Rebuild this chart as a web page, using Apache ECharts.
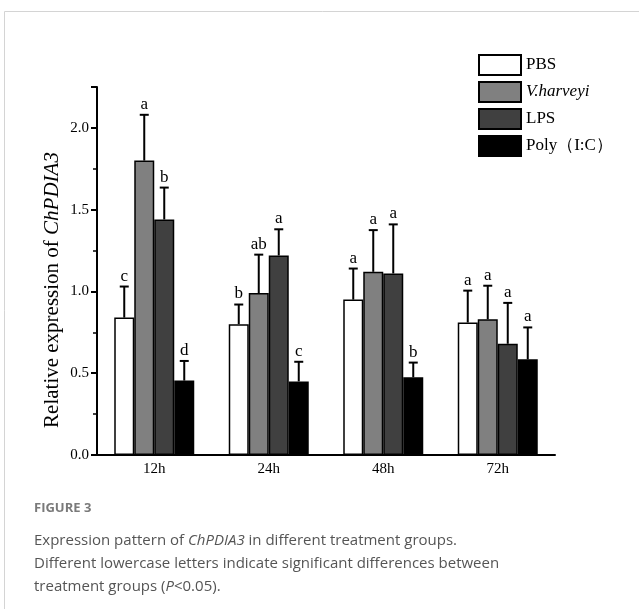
<!DOCTYPE html>
<html>
<head>
<meta charset="utf-8">
<script src="https://cdn.jsdelivr.net/npm/echarts@6/dist/echarts.min.js"></script>
<style>
html,body{margin:0;padding:0;background:#fff;}
#chart{width:639px;height:609px;}
</style>
</head>
<body>
<div id="chart"></div>
<script>
const categories = ['12h', '24h', '48h', '72h'];
const seriesNames = ['PBS', 'V.harveyi', 'LPS', 'Poly（I:C）'];
const pbsValues = [0.84, 0.80, 0.95, 0.81];
const pbsErrors = [0.19, 0.12, 0.19, 0.195];
const pbsLetters = ['c', 'b', 'a', 'a'];
const vhValues = [1.80, 0.99, 1.12, 0.83];
const vhErrors = [0.28, 0.235, 0.255, 0.205];
const vhLetters = ['a', 'ab', 'a', 'a'];
const lpsValues = [1.44, 1.22, 1.11, 0.68];
const lpsErrors = [0.195, 0.16, 0.30, 0.25];
const lpsLetters = ['b', 'a', 'a', 'a'];
const polyValues = [0.455, 0.45, 0.475, 0.585];
const polyErrors = [0.12, 0.12, 0.09, 0.195];
const polyLetters = ['d', 'c', 'b', 'a'];
const yTicks = [0, 0.5, 1.0, 1.5, 2.0];

const values = [pbsValues, vhValues, lpsValues, polyValues];
const errors = [pbsErrors, vhErrors, lpsErrors, polyErrors];
const letters = [pbsLetters, vhLetters, lpsLetters, polyLetters];
const colors = ['#ffffff', '#808080', '#404040', '#000000'];

const SERIF = '"Liberation Serif","Times New Roman",serif';
const BAR_W = 20;

const chart = echarts.init(document.getElementById('chart'));

const series = [];
seriesNames.forEach((name, k) => {
  series.push({
    name: name,
    type: 'bar',
    barWidth: BAR_W,
    barGap: '0%',
    data: values[k],
    itemStyle: { color: colors[k], borderColor: '#000', borderWidth: 1.5 },
    z: 2
  });
});
seriesNames.forEach((name, k) => {
  series.push({
    type: 'custom',
    name: name + '_err',
    z: 5,
    data: values[k].map((v, i) => [i, v, errors[k][i]]),
    renderItem: function (params, api) {
      const i = api.value(0), v = api.value(1), e = api.value(2);
      const p0 = api.coord([i, v]);
      const p1 = api.coord([i, v + e]);
      const x = p0[0] + (k - 1.5) * BAR_W;
      return {
        type: 'group',
        children: [
          { type: 'line', shape: { x1: x, y1: p0[1], x2: x, y2: p1[1] }, style: { stroke: '#000', lineWidth: 2 } },
          { type: 'line', shape: { x1: x - 4.5, y1: p1[1], x2: x + 4.5, y2: p1[1] }, style: { stroke: '#000', lineWidth: 2 } },
          { type: 'text', x: x, y: p1[1] - 2, style: { text: letters[k][params.dataIndex], fontFamily: SERIF, fontSize: 17, fill: '#000', align: 'center', verticalAlign: 'bottom' } }
        ]
      };
    }
  });
});

const option = {
  animation: false,
  backgroundColor: '#fff',
  grid: { left: 97, right: 84, top: 87, bottom: 154, containLabel: false },
  legend: {
    data: seriesNames,
    orient: 'vertical',
    left: 473,
    top: 49,
    itemWidth: 42,
    itemHeight: 20,
    itemGap: 5,
    icon: 'rect',
    itemStyle: { borderColor: '#000', borderWidth: 2 },
    textStyle: {
      fontFamily: SERIF, fontSize: 17, color: '#000',
      rich: { i: { fontFamily: SERIF, fontSize: 17, fontStyle: 'italic', color: '#000' } }
    },
    formatter: function (n) { return n === 'V.harveyi' ? '{i|V.harveyi}' : n; }
  },
  xAxis: [{
    type: 'category',
    data: categories,
    axisLine: { lineStyle: { color: '#000', width: 2 } },
    axisTick: { alignWithLabel: true, length: 6, lineStyle: { color: '#000', width: 2 } },
    axisLabel: { fontFamily: SERIF, fontSize: 15, color: '#000', margin: 7 }
  }, {
    type: 'category',
    data: categories,
    position: 'bottom',
    axisLine: { show: false },
    axisTick: { inside: true, length: 4, lineStyle: { color: '#000', width: 2 } },
    axisLabel: { show: false }
  }],
  yAxis: {
    type: 'value',
    min: 0, max: 2.25, interval: 0.5,
    axisLine: { show: true, lineStyle: { color: '#000', width: 2 } },
    axisTick: { show: true, length: 6, lineStyle: { color: '#000', width: 2 } },
    minorTick: { show: true, splitNumber: 2, length: 4, lineStyle: { color: '#000', width: 1.5 } },
    splitLine: { show: false },
    axisLabel: {
      fontFamily: SERIF, fontSize: 15, color: '#000', margin: 8, showMaxLabel: false,
      formatter: function (v) { return yTicks.indexOf(v) >= 0 ? v.toFixed(1) : ''; }
    }
  },
  graphic: [
    { type: 'rect', shape: { x: 4.5, y: 11.5, width: 800, height: 800 }, style: { fill: 'none', stroke: '#d4d4d4', lineWidth: 1 }, silent: true },
    { type: 'text', x: 52, y: 290, rotation: Math.PI / 2, style: {
        text: '{a|Relative expression of }{b|ChPDIA3}', align: 'center', verticalAlign: 'middle',
        rich: {
          a: { fontFamily: SERIF, fontSize: 21, fill: '#000' },
          b: { fontFamily: SERIF, fontSize: 21, fill: '#000', fontStyle: 'italic' }
        }
      } },
    { type: 'text', left: 34, top: 502, style: { text: 'FIGURE 3', fontFamily: '"Open Sans",sans-serif', fontSize: 13, fontWeight: 'bold', fill: '#7a7a7a' } },
    { type: 'text', left: 34, top: 529, style: {
        text: 'Expression pattern of {i|ChPDIA3} in different treatment groups.\nDifferent lowercase letters indicate significant differences between\ntreatment groups ({i|P}<0.05).',
        fontFamily: '"Open Sans",sans-serif', fontSize: 15, fill: '#555', lineHeight: 23,
        rich: { i: { fontFamily: '"Open Sans",sans-serif', fontSize: 15, fontStyle: 'italic', fill: '#555', lineHeight: 23 } }
      } }
  ],
  series: series
};
chart.setOption(option);
</script>
</body>
</html>
